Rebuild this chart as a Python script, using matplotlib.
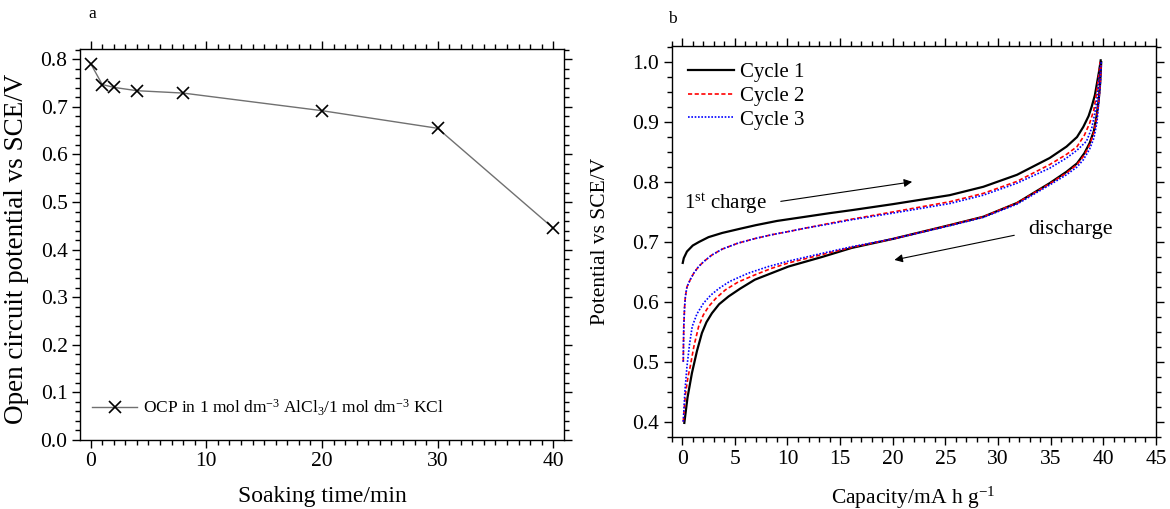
import matplotlib
matplotlib.use("Agg")
import matplotlib.pyplot as plt
from matplotlib.ticker import MultipleLocator

plt.rcParams["font.family"] = ["Liberation Serif", "DejaVu Serif"]
plt.rcParams["mathtext.fontset"] = "custom"
plt.rcParams["mathtext.rm"] = "Liberation Serif"
plt.rcParams["mathtext.it"] = "Liberation Serif:italic"

# ==========================================
# Data (a) open circuit potential
# ==========================================
soak_time = [0, 1, 2, 4, 8, 20, 30, 40]
ocp = [0.791, 0.747, 0.741, 0.734, 0.729, 0.692, 0.655, 0.445]
ocp_label = "OCP in 1 mol dm$^{-3}$ AlCl$_3$/1 mol dm$^{-3}$ KCl"

# ==========================================
# Data (b) charge / discharge curves
# ==========================================
c1_chg_x = [0.05, 0.15, 0.45, 1.0, 1.6, 2.5, 3.8, 5.5, 7.0, 9.0, 11.7, 14.0, 16.1,
            20.0, 25.4, 28.6, 31.8, 34.9, 36.5, 37.5, 38.1, 38.6, 38.9, 39.2, 39.4,
            39.6, 39.75]
c1_chg_y = [0.665, 0.673, 0.684, 0.694, 0.700, 0.708, 0.715, 0.722, 0.728, 0.735,
            0.742, 0.748, 0.753, 0.763, 0.778, 0.792, 0.812, 0.840, 0.859, 0.875,
            0.892, 0.910, 0.926, 0.945, 0.965, 0.985, 1.003]

c2_chg_x = [0.1, 0.12, 0.15, 0.22, 0.3, 0.45, 0.76, 1.1, 1.56, 2.1, 2.8, 3.8, 5.3,
            7.0, 8.5, 10.0, 11.7, 14.0, 16.1, 20.0, 25.4, 28.6, 31.8, 34.9, 36.5,
            37.5, 38.2, 38.7, 39.1, 39.35, 39.55, 39.7]
c2_chg_y = [0.500, 0.530, 0.560, 0.590, 0.609, 0.625, 0.637, 0.648, 0.659, 0.668,
            0.678, 0.688, 0.698, 0.706, 0.712, 0.717, 0.723, 0.731, 0.738, 0.750,
            0.767, 0.781, 0.801, 0.829, 0.846, 0.859, 0.878, 0.898, 0.920, 0.948,
            0.975, 1.000]

c3_chg_x = [0.1, 0.12, 0.15, 0.22, 0.3, 0.45, 0.76, 1.1, 1.56, 2.1, 2.8, 3.8, 5.3,
            7.0, 8.5, 10.0, 11.7, 14.0, 16.1, 20.0, 25.4, 28.6, 31.8, 34.9, 36.5,
            37.5, 38.4, 38.9, 39.2, 39.45, 39.6, 39.75]
c3_chg_y = [0.500, 0.530, 0.560, 0.590, 0.609, 0.625, 0.637, 0.648, 0.659, 0.668,
            0.678, 0.688, 0.698, 0.706, 0.712, 0.717, 0.723, 0.730, 0.737, 0.748,
            0.764, 0.778, 0.798, 0.823, 0.840, 0.853, 0.868, 0.890, 0.915, 0.945,
            0.975, 1.000]

c1_dis_x = [0.2, 0.5, 0.92, 1.4, 1.87, 2.3, 2.82, 3.5, 4.4, 5.5, 6.9, 8.5, 10.1,
            13.3, 16.1, 20.0, 25.4, 28.6, 31.8, 34.9, 36.5, 37.5, 38.2, 38.7, 39.1,
            39.35, 39.55, 39.7, 39.8]
c1_dis_y = [0.398, 0.440, 0.481, 0.518, 0.548, 0.566, 0.581, 0.596, 0.609, 0.622,
            0.637, 0.648, 0.659, 0.675, 0.690, 0.705, 0.728, 0.742, 0.765, 0.798,
            0.817, 0.831, 0.848, 0.865, 0.885, 0.909, 0.935, 0.965, 1.000]

c2_dis_x = [0.1, 0.3, 0.55, 0.76, 1.1, 1.56, 2.0, 2.5, 3.2, 4.1, 5.3, 6.9, 8.5,
            10.1, 13.3, 16.1, 20.0, 25.4, 28.6, 31.8, 34.9, 36.5, 37.5, 38.2, 38.7,
            39.1, 39.35, 39.55, 39.7, 39.8]
c2_dis_y = [0.400, 0.445, 0.475, 0.492, 0.525, 0.559, 0.578, 0.592, 0.606, 0.620,
            0.633, 0.645, 0.656, 0.665, 0.679, 0.691, 0.705, 0.728, 0.742, 0.765,
            0.797, 0.815, 0.829, 0.845, 0.862, 0.882, 0.905, 0.932, 0.962, 1.000]

c3_dis_x = [0.1, 0.25, 0.45, 0.7, 0.95, 1.4, 2.03, 2.7, 3.46, 4.5, 6.3, 8.2, 10.1,
            13.3, 16.1, 20.0, 25.4, 28.6, 31.8, 34.9, 36.5, 37.5, 38.1, 38.7, 39.1,
            39.4, 39.55, 39.7, 39.8]
c3_dis_y = [0.400, 0.450, 0.492, 0.530, 0.559, 0.580, 0.598, 0.611, 0.622, 0.634,
            0.648, 0.659, 0.668, 0.681, 0.692, 0.705, 0.727, 0.741, 0.763, 0.795,
            0.812, 0.825, 0.837, 0.855, 0.873, 0.900, 0.930, 0.960, 1.000]

cycle_labels = ["Cycle 1", "Cycle 2", "Cycle 3"]

# ==========================================
# Figure
# ==========================================
fig = plt.figure(figsize=(11.7, 5.09), dpi=100)
ax1 = fig.add_axes([0.0684, 0.1356, 0.4139, 0.7682])
ax2 = fig.add_axes([0.5741, 0.1409, 0.4139, 0.7688])


def style_axis(ax):
    for sp in ax.spines.values():
        sp.set_linewidth(1.0)
    ax.tick_params(which="both", direction="out", top=True, right=True,
                   labelsize=15.5, width=1.0, pad=3)
    ax.tick_params(which="major", length=6)
    ax.tick_params(which="minor", length=3.5)


# ---------- panel a ----------
ax1.plot(soak_time, ocp, color="#707070", lw=1.0, marker="x",
         markersize=9, markeredgecolor="black", markeredgewidth=1.2,
         label=ocp_label)
ax1.set_xlim(-0.92, 40.95)
ax1.set_ylim(0, 0.8217)
ax1.xaxis.set_major_locator(MultipleLocator(10))
ax1.xaxis.set_minor_locator(MultipleLocator(1))
ax1.yaxis.set_major_locator(MultipleLocator(0.1))
ax1.yaxis.set_minor_locator(MultipleLocator(0.02))
ax1.yaxis.set_major_formatter(plt.FormatStrFormatter("%.1f"))
style_axis(ax1)
ax1.set_xlabel("Soaking time/min", fontsize=17)
ax1.set_ylabel("Open circuit potential vs SCE/V", fontsize=19.5)
ax1.xaxis.set_label_coords(0.5, -0.118)
ax1.yaxis.set_label_coords(-0.105, 0.49)
ax1.legend(loc="lower left", frameon=False, fontsize=12.5, handlelength=2.6,
           handletextpad=0.3, borderaxespad=0.3, bbox_to_anchor=(0.0, 0.025))

# ---------- panel b ----------
ax2.plot(c1_chg_x, c1_chg_y, color="black", lw=1.6, label=cycle_labels[0])
ax2.plot(c2_chg_x, c2_chg_y, color="red", lw=1.2, ls=(0, (2.5, 1.5)),
         label=cycle_labels[1])
ax2.plot(c3_chg_x, c3_chg_y, color="blue", lw=1.2, ls=(0, (1, 1)),
         label=cycle_labels[2])
ax2.plot(c1_dis_x, c1_dis_y, color="black", lw=1.6)
ax2.plot(c2_dis_x, c2_dis_y, color="red", lw=1.2, ls=(0, (2.5, 1.5)))
ax2.plot(c3_dis_x, c3_dis_y, color="blue", lw=1.2, ls=(0, (1, 1)))
ax2.set_xlim(-1, 45)
ax2.set_ylim(0.374, 1.027)
ax2.xaxis.set_major_locator(MultipleLocator(5))
ax2.xaxis.set_minor_locator(MultipleLocator(1))
ax2.yaxis.set_major_locator(MultipleLocator(0.1))
ax2.yaxis.set_minor_locator(MultipleLocator(0.025))
ax2.yaxis.set_major_formatter(plt.FormatStrFormatter("%.1f"))
style_axis(ax2)
ax2.set_xlabel("Capacity/mA h g$^{-1}$", fontsize=15.5)
ax2.set_ylabel("Potential vs SCE/V", fontsize=15.5)
ax2.xaxis.set_label_coords(0.498, -0.122)
ax2.yaxis.set_label_coords(-0.127, 0.5)
ax2.legend(loc="upper left", frameon=False, fontsize=15, handlelength=2.2,
           handletextpad=0.3, labelspacing=0.2, borderaxespad=0.4)

ax2.text(0.2, 0.763, "1$^{\\mathrm{st}}$ charge", fontsize=15, va="center")
ax2.annotate("", xy=(22.1, 0.801), xytext=(9.1, 0.767),
             arrowprops=dict(arrowstyle="-|>", color="black", lw=0.8,
                             mutation_scale=12))
ax2.text(32.9, 0.720, "discharge", fontsize=16, va="center")
ax2.annotate("", xy=(19.9, 0.669), xytext=(31.8, 0.712),
             arrowprops=dict(arrowstyle="-|>", color="black", lw=0.8,
                             mutation_scale=12))

fig.text(0.0786, 0.972, "a", fontsize=12.5, va="center", ha="center")
fig.text(0.5744, 0.963, "b", fontsize=12.5, va="center", ha="center")

plt.savefig("out.png", dpi=100)
plt.close()
